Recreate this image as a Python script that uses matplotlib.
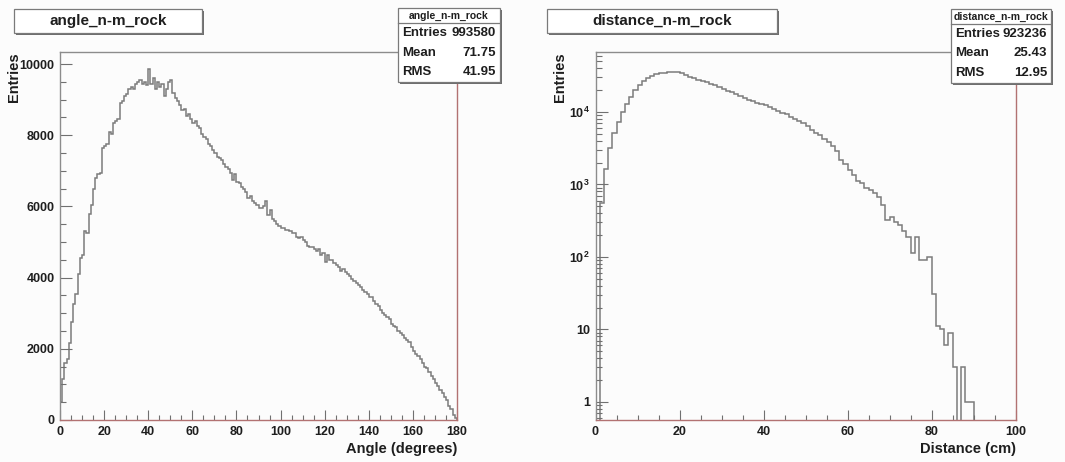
import numpy as np
import matplotlib
matplotlib.use("Agg")
import matplotlib.pyplot as plt
from matplotlib.patches import Rectangle
from matplotlib.ticker import MultipleLocator, FixedLocator, LogLocator, FuncFormatter, NullFormatter

# ---- data ----
angle_bin_width = 1.0
angle_counts = [
    500, 1150, 1600, 1700, 2150, 2750, 3250, 3550, 4100, 4550,
    4650, 5300, 5250, 5800, 6050, 6500, 6800, 6900, 6950, 7650,
    7700, 7750, 8100, 8050, 8350, 8400, 8450, 8900, 8950, 9100,
    9150, 9300, 9350, 9300, 9450, 9500, 9550, 9450, 9500, 9400,
    9850, 9450, 9600, 9300, 9500, 9350, 9450, 9100, 9300, 9500,
    9550, 9200, 9050, 8950, 8850, 8700, 8750, 8550, 8600, 8450,
    8350, 8400, 8250, 8200, 8050, 7950, 7900, 7750, 7700, 7600,
    7500, 7400, 7350, 7300, 7200, 7100, 7050, 6950, 6750, 6900,
    6700, 6650, 6550, 6500, 6400, 6250, 6300, 6150, 6100, 6050,
    5950, 5950, 6000, 6150, 5750, 5900, 5650, 5600, 5500, 5450,
    5400, 5400, 5350, 5350, 5300, 5250, 5250, 5150, 5100, 5150,
    5050, 5000, 4900, 4850, 4850, 4800, 4750, 4800, 4650, 4700,
    4450, 4650, 4500, 4500, 4400, 4350, 4300, 4200, 4250, 4150,
    4100, 4050, 3950, 3900, 3850, 3800, 3750, 3650, 3600, 3550,
    3450, 3450, 3350, 3250, 3200, 3100, 3000, 2950, 2900, 2850,
    2700, 2650, 2600, 2500, 2450, 2400, 2300, 2250, 2200, 2050,
    1950, 1850, 1800, 1700, 1600, 1500, 1450, 1350, 1250, 1150,
    1050, 950, 850, 750, 650, 550, 400, 300, 150, 50,
]

distance_bin_width = 1.0
distance_counts = [
    0, 550, 1650, 3150, 5100, 7300, 10000, 13000, 16300, 20000,
    23500, 27000, 29500, 31500, 33000, 34000, 34800, 35300, 35500, 35200,
    34300, 32500, 30800, 29200, 27800, 26800, 25600, 24600, 23300, 22000,
    20800, 19700, 18600, 17700, 16700, 15800, 14700, 14000, 13300, 12800,
    12300, 11600, 11000, 10200, 9700, 9400, 8500, 8000, 7600, 7000,
    6400, 5700, 5200, 4800, 4200, 3800, 3400, 2900, 2200, 1900,
    1600, 1350, 1100, 1050, 900, 840, 770, 680, 520, 325,
    360, 305, 275, 225, 190, 115, 190, 91, 91, 100,
    31, 11, 10, 6, 9, 3, 0, 3, 1, 1,
    0, 0, 0, 0, 0, 0, 0, 0, 0, 0,
]

angle_ticks = [0, 20, 40, 60, 80, 100, 120, 140, 160, 180]
angle_yticks = [0, 2000, 4000, 6000, 8000, 10000]
distance_ticks = [0, 20, 40, 60, 80, 100]

angle_stats = [("Entries", "993580"), ("Mean", "71.75"), ("RMS", "41.95")]
distance_stats = [("Entries", "923236"), ("Mean", "25.43"), ("RMS", "12.95")]

# ---- style ----
W, H = 1065, 462
plt.rcParams["font.family"] = ["Liberation Sans", "DejaVu Sans"]
plt.rcParams["font.weight"] = "bold"
plt.rcParams["mathtext.fontset"] = "custom"
plt.rcParams["mathtext.bf"] = "Liberation Sans:bold"
plt.rcParams["mathtext.rm"] = "Liberation Sans:bold"

BG = "#fcfcfc"
TXT = "#1e1e1e"
LINE = "#7c7c7c"
FRAME_GRAY = "#8c8c8c"
FRAME_RED = "#b27272"


def fx(x):
    return x / W


def fy(y):
    return 1 - y / H


def style_axes(ax):
    ax.set_facecolor(BG)
    ax.spines["top"].set_color(FRAME_GRAY)
    ax.spines["left"].set_color(FRAME_GRAY)
    ax.spines["right"].set_color(FRAME_RED)
    ax.spines["bottom"].set_color(FRAME_RED)
    for s in ax.spines.values():
        s.set_linewidth(1.0)
    ax.tick_params(which="both", direction="in", top=False, right=False,
                   colors="#707070", labelcolor=TXT, labelsize=9, pad=4)
    ax.tick_params(axis="y", which="major", length=8.5, width=0.8)
    ax.tick_params(axis="y", which="minor", length=4.5, width=0.8)
    ax.tick_params(axis="x", which="major", length=7.5, width=0.8)
    ax.tick_params(axis="x", which="minor", length=3.8, width=0.8)
    for lab in ax.get_xticklabels() + ax.get_yticklabels():
        lab.set_fontweight("bold")


def pave(fig, x0, y0, x1, y1):
    # ROOT style box with a small drop shadow
    fig.patches.append(Rectangle((fx(x0 + 2), fy(y1 + 2)), fx(x1 - x0), (y1 - y0) / H,
                                 transform=fig.transFigure, facecolor="#6e6e6e",
                                 edgecolor="none", zorder=4))
    fig.patches.append(Rectangle((fx(x0), fy(y1)), fx(x1 - x0), (y1 - y0) / H,
                                 transform=fig.transFigure, facecolor="white",
                                 edgecolor="#7a7a7a", linewidth=0.9, zorder=5))


def title_box(fig, x0, y0, x1, y1, text):
    pave(fig, x0, y0, x1, y1)
    fig.text(fx((x0 + x1) / 2), fy((y0 + y1) / 2), text, ha="center", va="center",
             fontsize=11, fontweight="bold", color=TXT, zorder=6)


def stats_box(fig, x0, y0, x1, y1, name, rows):
    pave(fig, x0, y0, x1, y1)
    yh = y0 + 15
    fig.lines.append(plt.Line2D([fx(x0), fx(x1)], [fy(yh), fy(yh)],
                                transform=fig.transFigure, color="#7a7a7a",
                                linewidth=0.9, zorder=6))
    fig.text(fx((x0 + x1) / 2), fy((y0 + yh) / 2), name, ha="center", va="center",
             fontsize=7.5, fontweight="bold", color=TXT, zorder=6)
    row_h = (y1 - yh) / len(rows)
    for i, (k, v) in enumerate(rows):
        yc = yh + row_h * (i + 0.5)
        fig.text(fx(x0 + 4), fy(yc), k, ha="left", va="center", fontsize=9.5,
                 fontweight="bold", color=TXT, zorder=6)
        fig.text(fx(x1 - 4), fy(yc), v, ha="right", va="center", fontsize=9.5,
                 fontweight="bold", color=TXT, zorder=6)


fig = plt.figure(figsize=(W / 100, H / 100), dpi=100, facecolor=BG)

# ---- left: angle ----
axL = fig.add_axes([fx(60), fy(420), fx(457 - 60), (420 - 52) / H])
edgesL = np.arange(len(angle_counts) + 1) * angle_bin_width
axL.stairs(angle_counts, edgesL, baseline=0, color=LINE, linewidth=1.1)
axL.set_xlim(0, 180)
axL.set_ylim(0, 10340)
axL.xaxis.set_major_locator(FixedLocator(angle_ticks))
axL.xaxis.set_minor_locator(MultipleLocator(5))
axL.yaxis.set_major_locator(FixedLocator(angle_yticks))
axL.yaxis.set_minor_locator(MultipleLocator(500))
style_axes(axL)
axL.set_xlabel("Angle (degrees)", fontsize=10.5, fontweight="bold", color=TXT,
               loc="right", labelpad=3)
axL.set_ylabel("Entries", fontsize=10.5, fontweight="bold", color=TXT, loc="top")
axL.yaxis.set_label_coords(-0.098, 1.0)

# ---- right: distance (log) ----
axR = fig.add_axes([fx(595.5), fy(420), fx(1015.5 - 595.5), (420 - 52) / H])
edgesR = np.arange(len(distance_counts) + 1) * distance_bin_width
dist_draw = np.where(np.array(distance_counts) > 0, distance_counts, 1e-3)
axR.set_yscale("log")
axR.stairs(dist_draw, edgesR, baseline=1e-3, color=LINE, linewidth=1.1)
axR.set_xlim(0, 100)
axR.set_ylim(10 ** -0.25, 10 ** 4.8276)
axR.xaxis.set_major_locator(FixedLocator(distance_ticks))
axR.xaxis.set_minor_locator(MultipleLocator(5))
axR.yaxis.set_major_locator(LogLocator(base=10, numticks=10))
axR.yaxis.set_minor_locator(LogLocator(base=10, subs=np.arange(2, 10), numticks=20))
axR.yaxis.set_minor_formatter(NullFormatter())


def log_fmt(v, pos):
    e = int(round(np.log10(v)))
    if e == 0:
        return "1"
    if e == 1:
        return "10"
    return r"$\mathbf{10^{%d}}$" % e


axR.yaxis.set_major_formatter(FuncFormatter(log_fmt))
style_axes(axR)
axR.set_xlabel("Distance (cm)", fontsize=10.5, fontweight="bold", color=TXT,
               loc="right", labelpad=3)
axR.set_ylabel("Entries", fontsize=10.5, fontweight="bold", color=TXT, loc="top")
axR.yaxis.set_label_coords(-0.068, 1.0)

# ---- title and stats panes ----
title_box(fig, 14, 9, 202, 33, "angle_n-m_rock")
stats_box(fig, 398, 8, 500, 82, "angle_n-m_rock", angle_stats)
title_box(fig, 547, 9, 777, 33, "distance_n-m_rock")
stats_box(fig, 951, 9, 1051, 83, "distance_n-m_rock", distance_stats)

fig.savefig("out.png", dpi=100, facecolor=BG)
